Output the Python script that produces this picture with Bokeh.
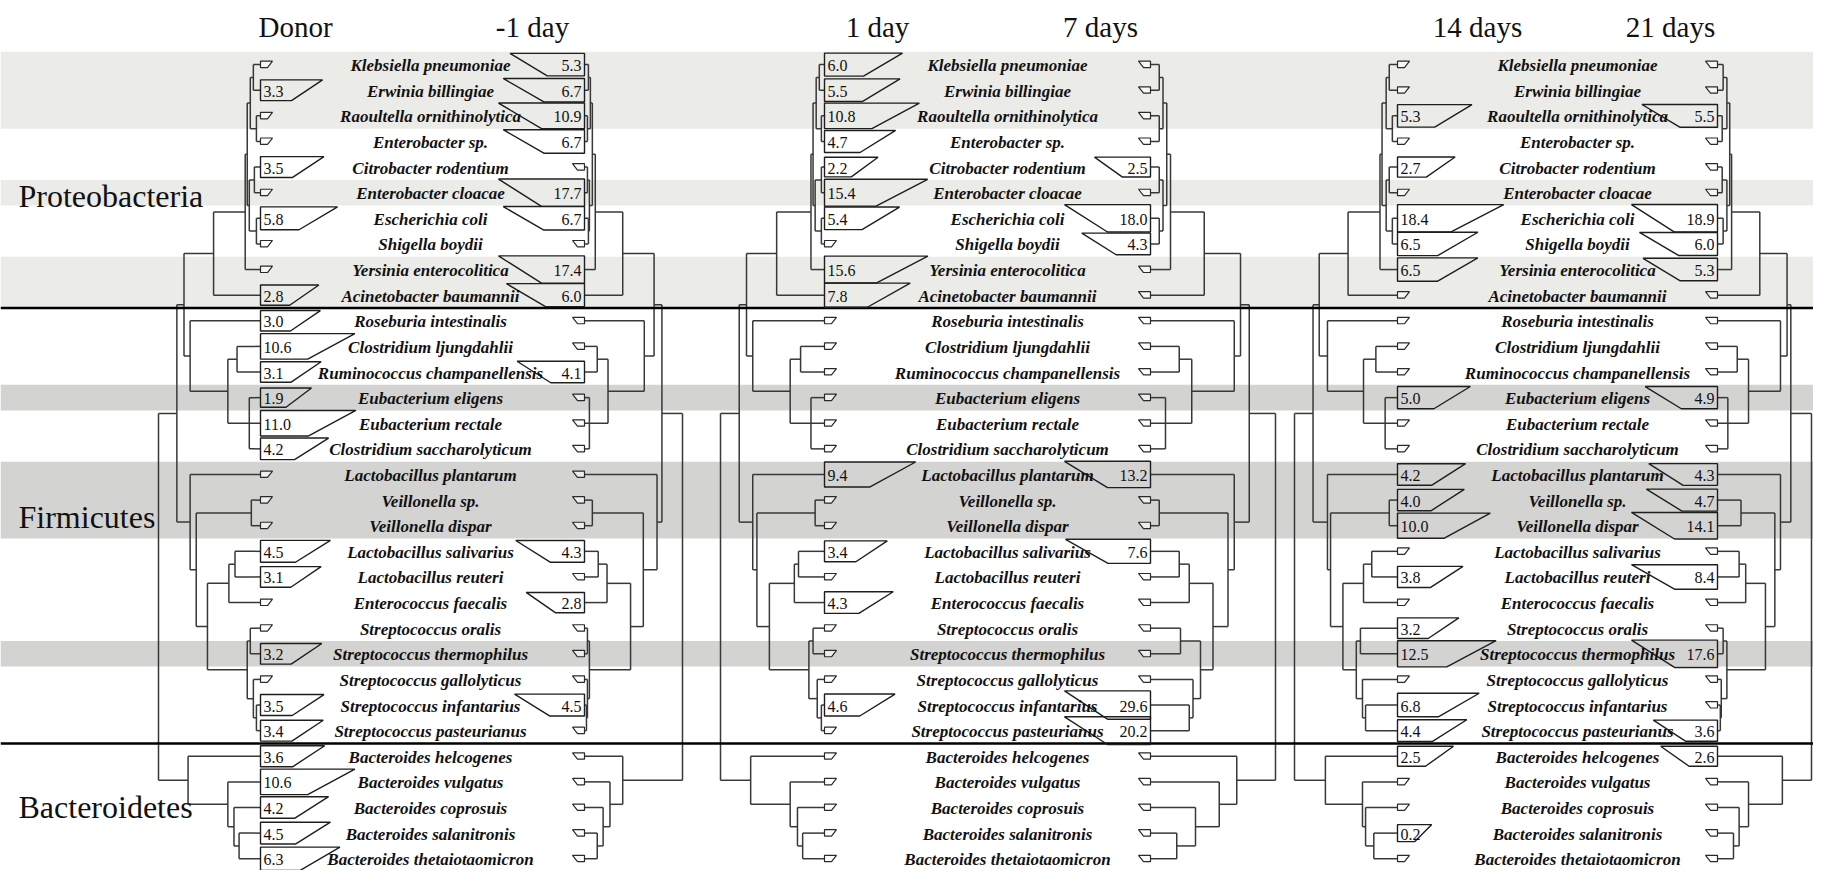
import math
from bokeh.plotting import figure
from bokeh.models import Range1d
from bokeh.embed import file_html
from bokeh.resources import INLINE
from bokeh.core.properties import value

# ---------------- data ----------------
species = [
    "Klebsiella pneumoniae", "Erwinia billingiae", "Raoultella ornithinolytica",
    "Enterobacter sp.", "Citrobacter rodentium", "Enterobacter cloacae",
    "Escherichia coli", "Shigella boydii", "Yersinia enterocolitica",
    "Acinetobacter baumannii",
    "Roseburia intestinalis", "Clostridium ljungdahlii", "Ruminococcus champanellensis",
    "Eubacterium eligens", "Eubacterium rectale", "Clostridium saccharolyticum",
    "Lactobacillus plantarum", "Veillonella sp.", "Veillonella dispar",
    "Lactobacillus salivarius", "Lactobacillus reuteri", "Enterococcus faecalis",
    "Streptococcus oralis", "Streptococcus thermophilus", "Streptococcus gallolyticus",
    "Streptococcus infantarius", "Streptococcus pasteurianus",
    "Bacteroides helcogenes", "Bacteroides vulgatus", "Bacteroides coprosuis",
    "Bacteroides salanitronis", "Bacteroides thetaiotaomicron",
]
phyla = ["Proteobacteria", "Firmicutes", "Bacteroidetes"]
phylum_rows = [(0, 9), (10, 26), (27, 31)]
light_rows = [0, 1, 2, 5, 8, 9]
dark_rows = [13, 16, 17, 18, 23]

N = None
donor = [N, 3.3, N, N, 3.5, N, 5.8, N, N, 2.8,
         3.0, 10.6, 3.1, 1.9, 11.0, 4.2, N, N, N, 4.5, 3.1, N, N, 3.2, N, 3.5, 3.4,
         3.6, 10.6, 4.2, 4.5, 6.3]
day_m1 = [5.3, 6.7, 10.9, 6.7, N, 17.7, 6.7, N, 17.4, 6.0,
          N, N, 4.1, N, N, N, N, N, N, 4.3, N, 2.8, N, N, N, 4.5, N,
          N, N, N, N, N]
day_1 = [6.0, 5.5, 10.8, 4.7, 2.2, 15.4, 5.4, N, 15.6, 7.8,
         N, N, N, N, N, N, 9.4, N, N, 3.4, N, 4.3, N, N, N, 4.6, N,
         N, N, N, N, N]
day_7 = [N, N, N, N, 2.5, N, 18.0, 4.3, N, N,
         N, N, N, N, N, N, 13.2, N, N, 7.6, N, N, N, N, N, 29.6, 20.2,
         N, N, N, N, N]
day_14 = [N, N, 5.3, N, 2.7, N, 18.4, 6.5, 6.5, N,
          N, N, N, 5.0, N, N, 4.2, 4.0, 10.0, N, 3.8, N, 3.2, 12.5, N, 6.8, 4.4,
          2.5, N, N, 0.2, N]
day_21 = [N, N, 5.5, N, N, N, 18.9, 6.0, 5.3, N,
          N, N, N, 4.9, N, N, 4.3, 4.7, 14.1, N, 8.4, N, N, 17.6, N, N, 3.6,
          2.6, N, N, N, N]

headers = ["Donor", "-1 day", "1 day", "7 days", "14 days", "21 days"]

# dendrogram topology (leaves are row indices)
tree = {
    "p01": [0, 1], "p23": [2, 3], "p03": ["p01", "p23"],
    "p45": [4, 5], "p67": [6, 7], "p47": ["p45", "p67"],
    "p07": ["p03", "p47"], "p08": ["p07", 8], "P": ["p08", 9],
    "c12": [11, 12], "c35": [13, 14, 15], "c15": ["c12", "c35"], "C": [10, "c15"],
    "PC": ["P", "C"],
    "v": [17, 18], "l01": [19, 20], "l02": ["l01", 21],
    "s01": [22, 23], "s56": [25, 26], "s46": [24, "s56"], "S": ["s01", "s46"],
    "LS": ["l02", "S"], "VLS": ["v", "LS"], "L": [16, "VLS"],
    "PCL": ["PC", "L"],
    "b34": [30, 31], "b24": [29, "b34"], "b14": [28, "b24"], "B": [27, "b14"],
    "root": ["PCL", "B"],
}
node_order = ["root", "PCL", "PC", "P", "p08", "p07", "p03", "p01", "p23", "p47",
              "p45", "p67", "C", "c15", "c12", "c35", "L", "VLS", "v", "LS",
              "l02", "l01", "S", "s01", "s46", "s56", "B", "b14", "b24", "b34"]
# linkage heights (root = 100) of each sample's dendrogram
h_donor = [100, 82, 75, 46, 15, 13, 10, 7, 4, 11, 6, 4, 69, 32, 23, 11, 69, 63, 9, 52,
           31, 25, 13, 10, 7, 4, 71, 32, 26, 21]
h_m1 = [100, 79, 71, 39, 11, 8, 6, 4, 3, 5, 3, 4, 61, 24, 13, 5, 74, 60, 8, 47,
        23, 14, 5, 3, 3, 2, 39, 26, 19, 13]
h_1 = [100, 82, 75, 46, 13, 11, 8, 5, 3, 9, 3, 3, 69, 33, 23, 13, 69, 65, 9, 53,
       29, 25, 15, 11, 7, 3, 71, 33, 26, 21]
h_7 = [100, 79, 72, 43, 16, 13, 10, 7, 7, 10, 7, 7, 67, 33, 23, 12, 67, 62, 7, 50,
       31, 23, 40, 24, 34, 31, 69, 55, 36, 21]
h_14 = [100, 82, 76, 48, 17, 15, 11, 8, 5, 11, 8, 5, 68, 33, 21, 12, 68, 65, 8, 53,
        33, 25, 40, 36, 34, 31, 70, 34, 31, 23]
h_21 = [100, 78, 74, 45, 15, 13, 10, 6, 5, 10, 5, 6, 67, 33, 21, 11, 67, 61, 25, 51,
        30, 23, 10, 6, 4, 3, 69, 33, 23, 17]

# ---------------- layout ----------------
ROW0, ROW_H = 73.0, 25.97
X_LEFT, X_RIGHT = 8, 1821


def row_y(i):
    return ROW0 + i * ROW_H


SERIF = value("Liberation Serif")

p = figure(width=1813, height=870, x_range=Range1d(X_LEFT, X_RIGHT),
           y_range=Range1d(890, 8), output_backend="svg", toolbar_location=None,
           x_axis_type=None, y_axis_type=None, min_border=0,
           min_border_left=0, min_border_right=0, min_border_top=0,
           min_border_bottom=0)
p.grid.visible = False
p.outline_line_color = None
p.background_fill_color = "white"
p.border_fill_color = "white"


def runs(rows):
    rows = sorted(rows)
    out = []
    for r in rows:
        if out and out[-1][1] == r - 1:
            out[-1][1] = r
        else:
            out.append([r, r])
    return out


for rows, col in ((light_rows, "#ebebe7"), (dark_rows, "#d3d3d1")):
    rr = runs(rows)
    p.quad(left=[X_LEFT] * len(rr), right=[X_RIGHT] * len(rr),
           top=[row_y(a) - ROW_H / 2 for a, b in rr],
           bottom=[row_y(b) + ROW_H / 2 for a, b in rr],
           fill_color=col, line_color=None)

# panels: (values, heights, leaf x, direction, full width of tree)
panels = [
    (donor, h_donor, 268, -1, 102),
    (day_m1, h_m1, 592, 1, 98),
    (day_1, h_1, 832, -1, 104),
    (day_7, h_7, 1158, 1, 125),
    (day_14, h_14, 1405, -1, 103),
    (day_21, h_21, 1725, 1, 94),
]
name_cx = [438, 1015, 1585]
header_x = [303, 540, 885, 1108, 1485, 1678]


def dendro(heights, leaf_x, direction, width):
    hd = dict(zip(node_order, heights))
    xs, ys = [], []

    def place(n):
        if isinstance(n, int):
            return leaf_x, row_y(n)
        x = leaf_x + direction * hd[n] / 100.0 * width
        kids = [place(c) for c in tree[n]]
        cy = [k[1] for k in kids]
        xs.append([x, x])
        ys.append([min(cy), max(cy)])
        for kx, ky in kids:
            xs.append([x, kx])
            ys.append([ky, ky])
        return x, (min(cy) + max(cy)) / 2.0

    place("root")
    return xs, ys


for vals, hts, lx, d, w in panels:
    xs, ys = dendro(hts, lx, d, w)
    p.multi_line(xs, ys, line_color="#383838", line_width=1.5)

# phylum separators
for a, b in phylum_rows[:-1]:
    yy = row_y(b + 0.5)
    p.line([X_LEFT, X_RIGHT], [yy, yy], line_color="black", line_width=2.6)

# wedges
wx, wy, mx, my = [], [], [], []
lab_l = dict(x=[], y=[], t=[])
lab_r = dict(x=[], y=[], t=[])
for vals, hts, lx, d, w in panels:
    s = -d  # wedge grows toward the names
    maxw = 118 if d < 0 else 86
    for i, v in enumerate(vals):
        yc = row_y(i)
        if v is None:
            mx.append([lx, lx + s * 12, lx + s * 7, lx])
            my.append([yc - 3.5, yc - 3.5, yc + 3, yc + 3])
            continue
        top = min(maxw, 32 + 80 * (1 - math.exp(-v / 7.0)))
        bot = 0.5 * top
        hh = 17 + 12 * (1 - math.exp(-v / 8.0))
        wx.append([lx, lx + s * top, lx + s * bot, lx])
        wy.append([yc - hh / 2, yc - hh / 2, yc + hh / 2, yc + hh / 2])
        tgt = lab_l if s > 0 else lab_r
        tgt["x"].append(lx + s * 3)
        tgt["y"].append(yc + 1)
        tgt["t"].append(f"{v:.1f}")

p.patches(wx, wy, fill_alpha=0, line_color="#1e1e1e", line_width=1.4)
p.patches(mx, my, fill_color="white", fill_alpha=0.6, line_color="#2a2a2a", line_width=1.2)

p.text(x=lab_l["x"], y=lab_l["y"], text=lab_l["t"], text_font=SERIF,
       text_font_size="16px", text_align="left", text_baseline="middle",
       text_color="#111111")
p.text(x=lab_r["x"], y=lab_r["y"], text=lab_r["t"], text_font=SERIF,
       text_font_size="16px", text_align="right", text_baseline="middle",
       text_color="#111111")

# species names
for cx in name_cx:
    p.text(x=[cx] * len(species), y=[row_y(i) + 1 for i in range(len(species))],
           text=species, text_font=SERIF, text_font_size="17px",
           text_font_style="bold italic", text_align="center",
           text_baseline="middle", text_color="#111111")

# headers
p.text(x=header_x, y=[35] * len(headers), text=headers, text_font=SERIF,
       text_font_size="29px", text_align="center", text_baseline="alphabetic",
       text_color="#111111")

# phylum labels
p.text(x=[26] * 3, y=[206, 532, 826], text=phyla, text_font=SERIF,
       text_font_size="32px", text_align="left", text_baseline="alphabetic",
       text_color="#111111")

open("out.html", "w").write(file_html(p, INLINE))
